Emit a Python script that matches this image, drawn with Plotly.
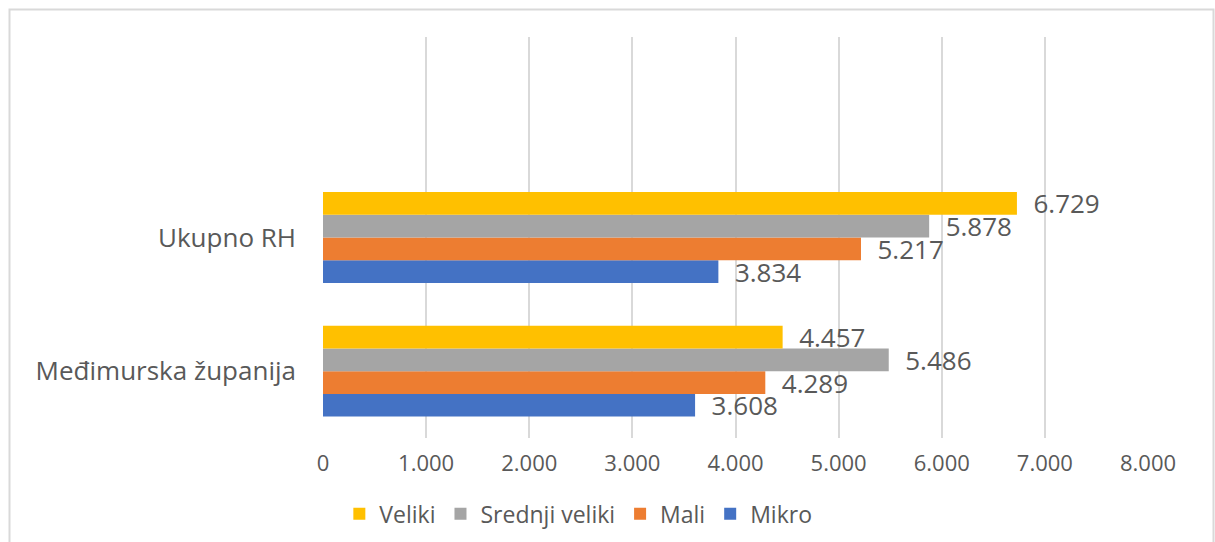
import plotly.graph_objects as go

categories = ["Međimurska županija", "Ukupno RH"]
series_names = ["Mikro", "Mali", "Srednji veliki", "Veliki"]
mikro = [3608, 3834]
mali = [4289, 5217]
srednji = [5486, 5878]
veliki = [4457, 6729]
colors = ["#4472C4", "#ED7D31", "#A5A5A5", "#FFC000"]
x_ticks = [0, 1000, 2000, 3000, 4000, 5000, 6000, 7000, 8000]

values = [mikro, mali, srednji, veliki]
FONT = "Open Sans, Liberation Sans, sans-serif"
GREY = "#595959"

fig = go.Figure()
for name, vals, col in zip(series_names, values, colors):
    fig.add_trace(go.Bar(
        y=categories, x=vals, name=name, orientation="h",
        marker=dict(color=col, line=dict(width=0)),
        texttemplate="\u00a0\u00a0%{x:,.0f}",
        textposition="outside", constraintext="none", cliponaxis=False,
        textfont=dict(family=FONT, size=26, color=GREY),
        hoverinfo="skip",
    ))

W, H = 1215, 542
L, R, T, B = 323, 1148, 37, 438
fig.update_layout(
    width=W, height=H,
    margin=dict(l=L, r=W - R, t=T, b=H - B),
    barmode="group", bargap=0.32, bargroupgap=0,
    plot_bgcolor="white", paper_bgcolor="white",
    separators=",.",
    font=dict(family=FONT, size=20, color=GREY),
    xaxis=dict(range=[0, 8000], tickvals=x_ticks, tickformat=",.0f",
               showgrid=True, gridcolor="#D9D9D9", gridwidth=2,
               zeroline=False, showline=False, ticks="",
               ticklabelstandoff=10,
               tickfont=dict(family=FONT, size=22, color=GREY)),
    yaxis=dict(type="category", categoryorder="array", categoryarray=categories,
               range=[-0.5, 2.5], showgrid=False, zeroline=False, showline=False,
               ticks="", ticklabelstandoff=26,
               tickfont=dict(family=FONT, size=26, color=GREY)),
    legend=dict(orientation="h", traceorder="reversed",
                xref="container", yref="container",
                x=0.476, xanchor="center", y=0.052, yanchor="middle",
                font=dict(family=FONT, size=23, color=GREY),
                itemwidth=30, bgcolor="rgba(0,0,0,0)"),
    showlegend=True,
)

# chart border
pw, ph = R - L, B - T
fig.add_shape(type="rect", xref="paper", yref="paper",
              x0=(9.5 - L) / pw, x1=(1213.5 - L) / pw,
              y0=(B - 548) / ph, y1=(B - 9.5) / ph,
              line=dict(color="#D9D9D9", width=2), fillcolor="rgba(0,0,0,0)",
              layer="below")

fig.write_html("out.html", config={"displayModeBar": False},
               post_script="document.body.style.margin='0';document.body.style.overflow='hidden';")
